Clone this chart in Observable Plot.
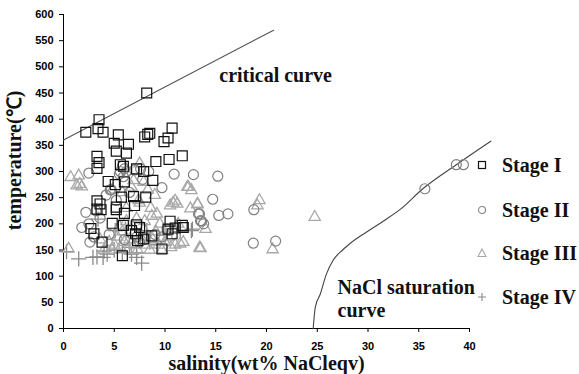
<!DOCTYPE html>
<html><head><meta charset="utf-8">
<script src="https://cdn.jsdelivr.net/npm/d3@7"></script>
<script src="https://cdn.jsdelivr.net/npm/@observablehq/plot@0.6"></script>
<style>
body{margin:0;background:#fff;}
#wrap{position:relative;width:579px;height:374px;}
.leg{position:absolute;left:476px;font-family:"Liberation Serif","Times New Roman",serif;font-weight:bold;font-size:20px;color:#111;display:flex;align-items:center;height:24px;}
.leg svg{margin-right:14px;}
</style>
</head><body>
<div id="wrap"></div>
<script>
// Stage I (squares): [salinity wt% NaCleqv, temperature °C]
const stage1 = [[8.2,450],[3.5,399],[2.2,375],[3.4,382],[3.9,375],[5.4,370],[5.0,354],[6.4,352],[5.2,339],[6.2,335],
[8.0,366],[8.3,371],[8.5,373],[9.9,357],[10.3,364],[10.7,383],[10.4,323],[11.7,330],[3.3,329],[3.5,317],[3.3,306],
[9.1,319],[5.6,313],[5.9,310],[7.2,305],[7.9,300],[4.4,281],[5.1,275],[6.0,280],[8.8,283],[5.7,251],[6.9,252],[8.1,251],
[3.3,244],[3.6,238],[3.3,228],[3.7,227],[5.2,232],[5.2,227],[6.0,220],[7.0,235],[4.8,201],[5.9,197],[2.7,191],[3.0,181],
[3.8,165],[7.2,198],[7.5,193],[7.1,181],[7.3,168],[7.9,171],[8.7,177],[9.7,152],[10.5,205],[10.3,190],[10.7,181],[11.0,192],
[11.7,197],[5.8,139],[6.7,187],[11.8,193]];
// Stage II (circles)
const stage2 = [[2.5,297],[12.8,294],[10.9,295],[5.6,300],[5.8,310],[6.0,305],[5.5,295],[6.2,300],[5.9,290],[4.7,265],
[4.2,255],[3.2,225],[2.5,200],[3.0,175],[7.8,285],[7.6,305],[8.4,300],[9.7,269],[4.6,265],[2.2,222],[1.8,193],[2.6,165],
[3.6,211],[5.2,245],[6.5,260],[7.2,175],[8.0,170],[9.0,180],[9.7,175],[6.0,170],[7.5,165],[10.2,190],[4.5,180],[7.0,303],
[13.3,219],[13.5,206],[15.2,291],[14.7,247],[13.4,219],[13.6,205],[13.8,200],[15.3,216],[16.2,219],[18.75,227],[18.7,163],
[20.9,167],[35.6,267],[38.7,313],[39.4,313]];
// Stage III (triangles)
const stage3 = [[0.7,289],[1.5,292],[1.6,276],[1.3,273],[1.8,271],[0.5,152],[7.5,315],[6.9,283],[7.9,280],[11.0,244],
[11.2,238],[13.2,237],[12.3,270],[13.4,154],[9.2,219],[8.6,230],[7.4,245],[12.2,270],[12.6,264],[13.2,238],[12.5,229],
[14.0,190],[13.5,153],[19.3,245],[19.1,235],[24.75,213],[20.6,151],[11.5,162],
[4.5,165],[5.0,160],[5.3,175],[5.6,155],[5.8,185],[6.0,165],[6.3,150],[6.5,170],[6.8,195],[7.0,160],[7.3,150],[7.6,175],
[7.9,190],[8.2,160],[8.5,150],[8.8,170],[9.1,185],[9.4,160],[9.7,150],[10.0,165],[10.3,175],[10.6,155],[11.0,160],[4.0,150],
[4.8,150],[5.5,195],[6.2,205],[7.2,210],[8.0,205],[8.7,215],[9.5,200],[10.5,235],[9.0,255],[8.3,265],[7.5,240],[6.7,270],
[5.8,260],[4.8,265],[6.2,230],[10.8,240],[11.3,200],[11.8,165],[3.6,170]];
// Stage IV (plus)
const stage4 = [[0.3,147],[1.5,133],[2.9,136],[3.3,137],[3.9,136],[5.1,187],[6.1,190],[7.2,136],[7.7,125],[6.7,142],
[3.4,209],[7.2,145],[8.2,187],[12.6,187],[12.7,190],[4.0,148],[5.0,150],[5.8,145],[6.5,155],[8.5,165],[9.3,160],[10.0,178],
[11.5,185],[4.3,142]];
// reference curves
const criticalCurve = [[0,360],[20.7,570]];
const saturationCurve = [[24.6,0],[24.8,40],[25.3,66],[25.9,104],[26.55,130],[27.5,150],[28.2,162],[29.83,184],[31.5,205],
[33.2,228],[35.4,267],[38.7,313],[42.1,358]];
const xTicks = [0,5,10,15,20,25,30,35,40];
const yTicks = d3.range(0, 601, 50);
const stageNames = ["Stage I","Stage II","Stage III","Stage IV"];
const criticalLabel = [{x:20.9, y:484, text:"critical curve"}];
const saturationLabel = [{x:27.0, y:79, text:"NaCl saturation"}, {x:27.0, y:34, text:"curve"}];

const serif = '"Liberation Serif", "Times New Roman", serif';
const chart = Plot.plot({
  width: 579, height: 374,
  marginLeft: 63, marginRight: 110, marginTop: 14, marginBottom: 46,
  style: {fontFamily: '"Liberation Sans", Arial, sans-serif', fontWeight: "bold", fontSize: "11px", color: "#000", background: "#fff"},
  x: {domain: [0, 40], ticks: xTicks, tickSize: 4, tickPadding: 10, label: null},
  y: {domain: [0, 600], ticks: yTicks, tickSize: 4, tickPadding: 6, label: null},
  marks: [
    Plot.ruleX([0], {stroke: "#000", strokeWidth: 1}),
    Plot.ruleY([0], {stroke: "#000", strokeWidth: 1}),
    Plot.line(criticalCurve, {x: d => d[0], y: d => d[1], stroke: "#555", strokeWidth: 1.1}),
    Plot.line(saturationCurve, {x: d => d[0], y: d => d[1], stroke: "#444", strokeWidth: 1.1, curve: "monotone-x"}),
    Plot.dot(stage4, {x: d => d[0], y: d => d[1], symbol: "plus", r: 5, stroke: "#8a8a8a", strokeWidth: 1.3}),
    Plot.dot(stage3, {x: d => d[0], y: d => d[1], symbol: "triangle", r: 4.2, stroke: "#a8a8a8", strokeWidth: 1.3}),
    Plot.dot(stage2, {x: d => d[0], y: d => d[1], symbol: "circle", r: 5, stroke: "#808080", strokeWidth: 1.2}),
    Plot.dot(stage1, {x: d => d[0], y: d => d[1], symbol: "square", r: 5.6, stroke: "#111", strokeWidth: 1.2}),
    Plot.text(criticalLabel, {x: "x", y: "y", text: "text", textAnchor: "middle", fontFamily: serif, fontWeight: "bold", fontSize: 20, fill: "#111"}),
    Plot.text(saturationLabel, {x: "x", y: "y", text: "text", textAnchor: "start", fontFamily: serif, fontWeight: "bold", fontSize: 20, fill: "#111"}),
    Plot.text(["salinity(wt% NaCleqv)"], {text: d => d, frameAnchor: "bottom", dy: 41, fontFamily: serif, fontWeight: "bold", fontSize: 20, fill: "#111"}),
    Plot.text(["temperature(℃)"], {text: d => d, frameAnchor: "left", textAnchor: "middle", dx: -49, dy: -11, rotate: -90, fontFamily: serif, fontWeight: "bold", fontSize: 20, fill: "#111"})
  ]
});
const wrap = document.getElementById("wrap");
wrap.appendChild(chart);

// legend
const legendMarks = [
  '<rect x="2.5" y="2.5" width="7" height="7" fill="none" stroke="#111" stroke-width="1.2"/>',
  '<circle cx="6" cy="6" r="3.5" fill="none" stroke="#808080" stroke-width="1.1"/>',
  '<path d="M6,2 L10,9.5 L2,9.5 Z" fill="none" stroke="#a8a8a8" stroke-width="1.1"/>',
  '<path d="M6,2 V10 M2,6 H10" stroke="#8a8a8a" stroke-width="1.1"/>'
];
const legendTops = [153, 198, 241, 285];
stageNames.forEach((name, i) => {
  const div = document.createElement("div");
  div.className = "leg";
  div.style.top = legendTops[i] + "px";
  div.innerHTML = `<svg width="12" height="12">${legendMarks[i]}</svg><span>${name}</span>`;
  wrap.appendChild(div);
});
</script>
</body></html>
